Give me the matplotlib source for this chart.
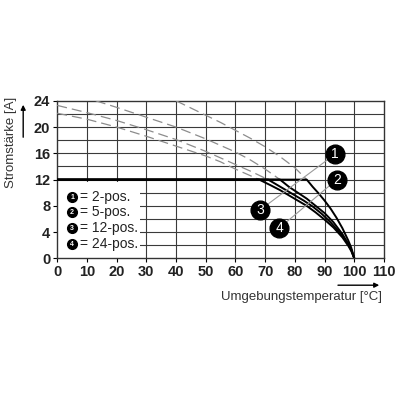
import matplotlib
matplotlib.use("Agg")
import matplotlib.pyplot as plt
import numpy as np

plt.rcParams['font.family'] = ['Liberation Sans', 'DejaVu Sans']

# Derating curves: temperature [°C] and current [A]
c1_T = [40, 45, 50, 55, 60, 65, 70, 75, 80, 84, 86, 88, 90, 92, 94, 96, 98, 99, 100]
c1_I = [24.0, 22.9, 21.8, 20.7, 19.5, 18.3, 17.0, 15.5, 13.8, 12.0, 10.9, 9.9, 8.8, 7.6, 6.2, 4.6, 2.7, 1.6, 0.0]

c2_T = [13, 20, 30, 40, 50, 60, 65, 70, 75, 78, 81, 84, 87, 90, 93, 96, 98, 99, 100]
c2_I = [24.0, 23.0, 21.5, 20.0, 18.2, 16.2, 15.0, 13.6, 12.0, 10.9, 10.0, 9.1, 8.0, 6.9, 5.5, 3.7, 2.2, 1.3, 0.0]

c3_T = [0, 10, 20, 30, 40, 50, 55, 60, 65, 71, 74, 77, 80, 83, 86, 89, 92, 95, 97, 99, 100]
c3_I = [23.3, 22.2, 21.0, 19.6, 18.1, 16.3, 15.3, 14.3, 13.3, 12.0, 11.2, 10.4, 9.6, 8.8, 7.9, 6.8, 5.5, 4.0, 2.8, 1.3, 0.0]

c4_T = [0, 10, 20, 30, 40, 50, 55, 60, 65, 68, 72, 75, 78, 81, 84, 87, 90, 93, 96, 98, 99, 100]
c4_I = [22.1, 21.2, 20.0, 18.6, 17.1, 15.6, 14.7, 13.6, 12.6, 12.0, 11.1, 10.4, 9.6, 8.8, 8.0, 7.0, 5.9, 4.7, 3.2, 1.9, 1.1, 0.0]

curves = [(c1_T, c1_I), (c2_T, c2_I), (c3_T, c3_I), (c4_T, c4_I)]
current_limit = 12

legend_nums = ['1', '2', '3', '4']
legend_texts = ['= 2-pos.', '= 5-pos.', '= 12-pos.', '= 24-pos.']

x_ticks = [0, 10, 20, 30, 40, 50, 60, 70, 80, 90, 100, 110]
y_ticks = [0, 4, 8, 12, 16, 20, 24]

xlabel = 'Umgebungstemperatur [°C]'
ylabel = 'Stromstärke [A]'

fig = plt.figure(figsize=(4, 4), dpi=100)
ax = fig.add_axes([0.143, 0.354, 0.817, 0.394])
ax.set_xlim(0, 110)
ax.set_ylim(0, 24)

# grid
for x in x_ticks[1:-1]:
    ax.axvline(x, color='#3a3a3a', lw=0.8, zorder=1)
for y in range(2, 24, 2):
    ax.axhline(y, color='#3a3a3a', lw=0.8, zorder=1)

# white legend box covering grid
ax.add_patch(plt.Rectangle((0, 0), 28, 11.6, facecolor='white', edgecolor='none', zorder=2))

for T, I in curves:
    T = np.array(T, float)
    I = np.array(I, float)
    k = int(np.where(np.isclose(I, current_limit))[0][0])
    ax.plot(T[:k + 1], I[:k + 1], color='#8c8c8c', lw=0.9, dashes=(8, 4), zorder=3)
    ax.plot(np.r_[0, T[k:]], np.r_[current_limit, I[k:]], color='black', lw=1.4,
            zorder=4, solid_capstyle='butt')

# legend entries
for i, (n, t) in enumerate(zip(legend_nums, legend_texts)):
    y = 9.4 - i * 2.4
    ax.plot(5.05, y, 'o', ms=7, color='black', zorder=5)
    ax.text(5.05, y - 0.05, n, color='white', fontsize=5, fontweight='bold',
            ha='center', va='center', zorder=6)
    ax.text(7.6, y, t, color='#222222', fontsize=10, ha='left', va='center', zorder=6)

# callout labels
lab_pos = {'1': (93.6, 15.9), '2': (94.1, 12.0), '3': (68.2, 7.35), '4': (74.7, 4.6)}
ax.plot([lab_pos['3'][0], lab_pos['1'][0]], [lab_pos['3'][1], lab_pos['1'][1]],
        color='#9a9a9a', lw=0.8, zorder=4.5)
ax.plot([lab_pos['4'][0], lab_pos['2'][0]], [lab_pos['4'][1], lab_pos['2'][1]],
        color='#9a9a9a', lw=0.8, zorder=4.5)
for n, (x, y) in lab_pos.items():
    ax.plot(x, y, 'o', ms=13.5, color='black', zorder=7, clip_on=False)
    ax.text(x, y, n, color='white', fontsize=10, ha='center', va='center',
            zorder=8, clip_on=False)

ax.set_xticks(x_ticks)
ax.set_yticks(y_ticks)
ax.set_xticklabels([str(v) for v in x_ticks], fontweight='bold', fontsize=10.5, color='#222222')
ax.set_yticklabels([str(v) for v in y_ticks], fontweight='bold', fontsize=10.5, color='#222222')
ax.tick_params(direction='out', length=3, width=0.8, pad=2)
for s in ax.spines.values():
    s.set_linewidth(1.0)
    s.set_color('#333333')

# axis labels
fig.text(0.028, 0.645, ylabel, rotation=90, ha='center', va='center',
         fontsize=9.5, color='#333333')
fig.text(0.955, 0.258, xlabel, ha='right', va='center', fontsize=9.5, color='#333333')

# arrows
fig.add_artist(matplotlib.patches.FancyArrowPatch((0.058, 0.65), (0.058, 0.745),
               transform=fig.transFigure, arrowstyle='-|>', mutation_scale=7,
               color='black', lw=1.0))
fig.add_artist(matplotlib.patches.FancyArrowPatch((0.838, 0.287), (0.955, 0.287),
               transform=fig.transFigure, arrowstyle='-|>', mutation_scale=7,
               color='black', lw=1.0))

fig.savefig('out.png', dpi=100)
